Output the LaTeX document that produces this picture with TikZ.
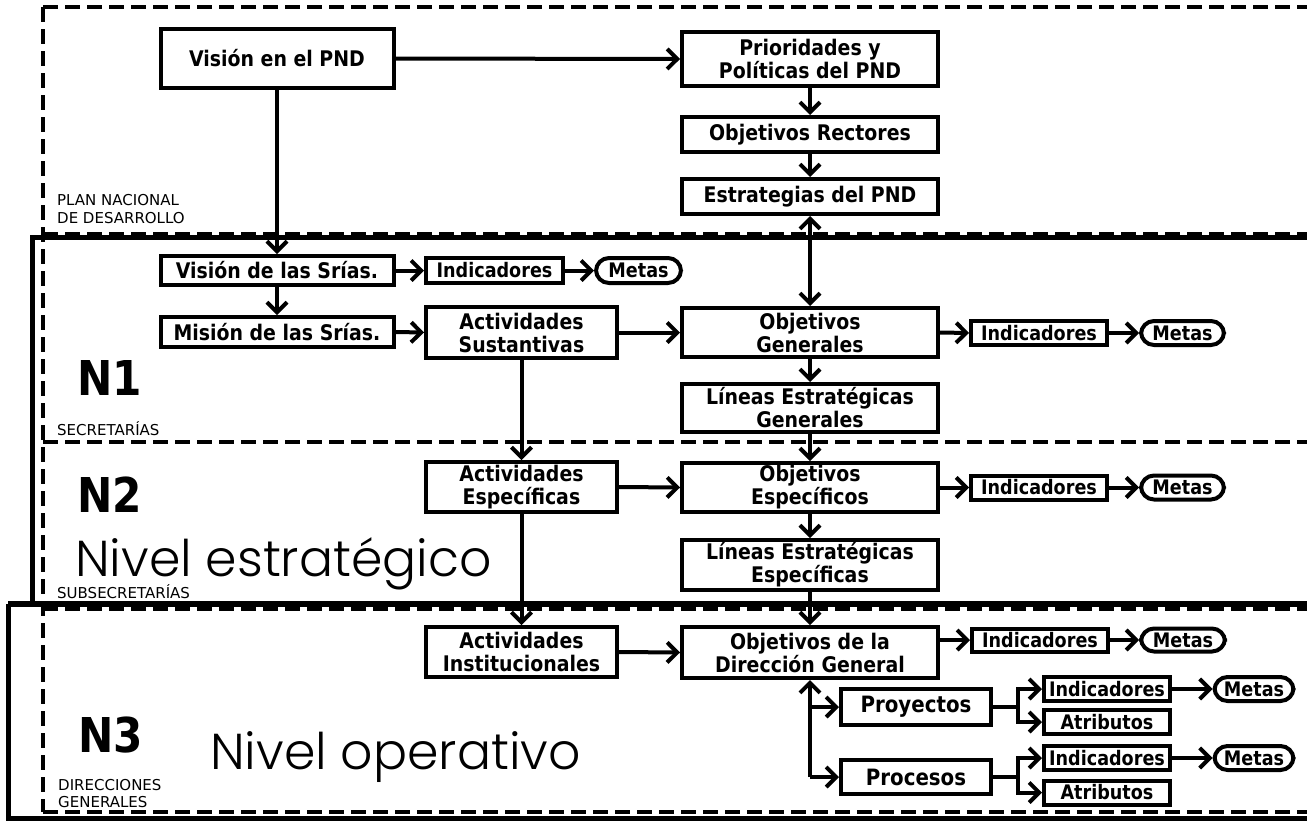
\documentclass[tikz,border=0pt]{standalone}
\usepackage{fontspec}
\usetikzlibrary{arrows.meta,calc}
\newfontfamily\bx{DejaVu Sans}[FakeStretch=0.88]
\newfontfamily\sm{DejaVu Sans}
\newfontfamily\geo{Poppins}[UprightFont=* Light]
\begin{document}
\begin{tikzpicture}[x=1pt,y=-1pt,
  box/.style={draw, line width=4pt, fill=white, inner sep=0pt, align=center,
    font=\bx\bfseries\fontsize{21.5}{23}\selectfont},
  sbox/.style={box, font=\bx\bfseries\fontsize{20}{22}\selectfont},
  pbox/.style={box, font=\bx\bfseries\fontsize{22.5}{24}\selectfont},
  wh/.style 2 args={minimum width=#1pt, minimum height=#2pt},
  metas/.style={sbox, rounded corners=13pt},
  arr/.style={line width=4pt, -{Straight Barb[length=10pt,width=20pt]}},
  arrtwo/.style={line width=4pt, {Straight Barb[length=10pt,width=20pt]}-{Straight Barb[length=10pt,width=20pt]}},
  dline/.style={line width=3.2pt, dash pattern=on 15pt off 7pt},
  sline/.style={line width=5pt},
  lab/.style={inner sep=0pt, anchor=base west, font=\sm\fontsize{15}{18}\selectfont},
  nlab/.style={inner sep=0pt, anchor=base west, font=\bx\bfseries\fontsize{48}{48}\selectfont},
  big/.style={inner sep=0pt, anchor=base west, font=\geo\fontsize{50.5}{50.5}\selectfont}
]
\path[use as bounding box] (0,0) rectangle (1307,820);
\clip (0,0) rectangle (1307,820);
\fill[white] (0,0) rectangle (1307,820);

% frames
\draw[dline] (43,7) -- (1312,7);
\draw[dline] (43,7) -- (43,812);
\draw[dline] (43,234) -- (1312,234);
\draw[dline] (43,442) -- (1312,442);
\draw[dline] (43,609) -- (1312,609);
\draw[dline] (43,812) -- (1312,812);
\draw[sline] (1312,237) -- (32,237) -- (32,604);
\draw[line width=6pt] (8,604) -- (1312,604);
\draw[sline] (8,604) -- (8,818) -- (1312,818);

% labels
\node[lab] (lpnda) at (57,205) {PLAN NACIONAL};
\node[lab] (lpndb) at (57,223) {DE DESARROLLO};
\node[nlab] (nuno) at (77,395) {N1};
\node[lab] (lsec) at (57,435) {SECRETARÍAS};
\node[nlab] (ndos) at (77,512) {N2};
\node[big] (lestr) at (75,576) {Nivel estratégico};
\node[lab] (lsub) at (57,598) {SUBSECRETARÍAS};
\node[nlab] (ntres) at (78,752) {N3};
\node[big] (loper) at (210,769) {Nivel operativo};
\node[lab] (ldira) at (58,790) {DIRECCIONES};
\node[lab] (ldirb) at (58,807) {GENERALES};

% boxes
\node[box, wh={233}{59}] (vpnd) at (277,58.5) {Visión en el PND};
\node[box, wh={256}{54}] (prio) at (810,59) {Prioridades y\\Políticas del PND};
\node[box, wh={256}{35}] (objr) at (810,134.5) {Objetivos Rectores};
\node[box, wh={256}{35}] (estr) at (810,196.5) {Estrategias del PND};

\node[box, wh={233}{29}] (vsrias) at (277,270.5) {Visión de las Srías.};
\node[sbox, wh={137}{25}] (inda) at (494.5,270.5) {Indicadores};
\node[metas, wh={85}{25}] (metasa) at (638.5,270.5) {Metas};

\node[box, wh={233}{30}] (mision) at (277,332) {Misión de las Srías.};
\node[box, wh={191}{51}] (actsust) at (521.5,332.5) {Actividades\\Sustantivas};
\node[box, wh={256}{49}] (objgen) at (810,332.5) {Objetivos\\Generales};
\node[sbox, wh={136}{24}] (indb) at (1039,333) {Indicadores};
\node[metas, wh={83}{24}] (metasb) at (1182.5,333) {Metas};
\node[box, wh={256}{48}] (leg) at (810,408) {Líneas Estratégicas\\Generales};

\node[box, wh={191}{50}] (actesp) at (521.5,487) {Actividades\\Específicas};
\node[box, wh={256}{49}] (objesp) at (810,487.5) {Objetivos\\Específicos};
\node[sbox, wh={136}{24}] (indc) at (1039,487.5) {Indicadores};
\node[metas, wh={83}{24}] (metasc) at (1182.5,487.5) {Metas};
\node[box, wh={256}{50}] (lee) at (810,565) {Líneas Estratégicas\\Específicas};

\node[box, wh={191}{50}] (actinst) at (521.5,652) {Actividades\\Institucionales};
\node[box, wh={256}{51}] (objdg) at (810,652.5) {Objetivos de la\\Dirección General};
\node[sbox, wh={136}{23}] (indd) at (1040,640) {Indicadores};
\node[metas, wh={84}{23}] (metasd) at (1183,640) {Metas};

\node[pbox, wh={150}{36}] (proy) at (916,707) {Proyectos};
\node[sbox, wh={126}{24}] (inde) at (1107,689) {Indicadores};
\node[metas, wh={79}{24}] (metase) at (1254,689) {Metas};
\node[sbox, wh={126}{24}] (atre) at (1107,722) {Atributos};

\node[pbox, wh={150}{34}] (proc) at (916,777) {Procesos};
\node[sbox, wh={126}{24}] (indf) at (1107,758) {Indicadores};
\node[metas, wh={79}{24}] (metasf) at (1254,758) {Metas};
\node[sbox, wh={126}{24}] (atrf) at (1107,792.5) {Atributos};

% connectors
\draw[arr] (vpnd.east) -- (prio.west);
\draw[arr] (vpnd.south) -- (vsrias.north);
\draw[arr] (prio.south) -- (objr.north);
\draw[arr] (objr.south) -- (estr.north);
\draw[arrtwo] (estr.south) -- (objgen.north);
\draw[arr] (vsrias.east) -- (inda.west);
\draw[arr] (inda.east) -- (metasa.west);
\draw[arr] (vsrias.south) -- (mision.north);
\draw[arr] (mision.east) -- (actsust.west);
\draw[arr] (actsust.east) -- (objgen.west);
\draw[arr] (objgen.east) -- (indb.west);
\draw[arr] (indb.east) -- (metasb.west);
\draw[arr] (objgen.south) -- (leg.north);
\draw[arr] (actsust.south) -- (actesp.north);
\draw[arr] (leg.south) -- (objesp.north);
\draw[arr] (actesp.east) -- (objesp.west);
\draw[arr] (objesp.east) -- (indc.west);
\draw[arr] (indc.east) -- (metasc.west);
\draw[arr] (objesp.south) -- (lee.north);
\draw[arr] (actesp.south) -- (actinst.north);
\draw[arr] (lee.south) -- (objdg.north);
\draw[arr] (actinst.east) -- (objdg.west);
\draw[arr] (objdg.east |- indd.west) -- (indd.west);
\draw[arr] (indd.east) -- (metasd.west);

\coordinate (fa) at (objdg.south |- proc.west);
\draw[arr] (fa) -- (objdg.south);
\draw[arr] (fa) -- (proc.west);
\draw[arr] (objdg.south |- proy.west) -- (proy.west);

\coordinate (fb) at ($(proy.east)+(25,0)$);
\draw[line width=4pt] (proy.east) -- (fb);
\draw[arr] (fb) |- (inde.west);
\draw[arr] (fb) |- (atre.west);
\draw[arr] (inde.east) -- (metase.west);

\coordinate (fc) at ($(proc.east)+(25,0)$);
\draw[line width=4pt] (proc.east) -- (fc);
\draw[arr] (fc) |- (indf.west);
\draw[arr] (fc) |- (atrf.west);
\draw[arr] (indf.east) -- (metasf.west);
\end{tikzpicture}
\end{document}
